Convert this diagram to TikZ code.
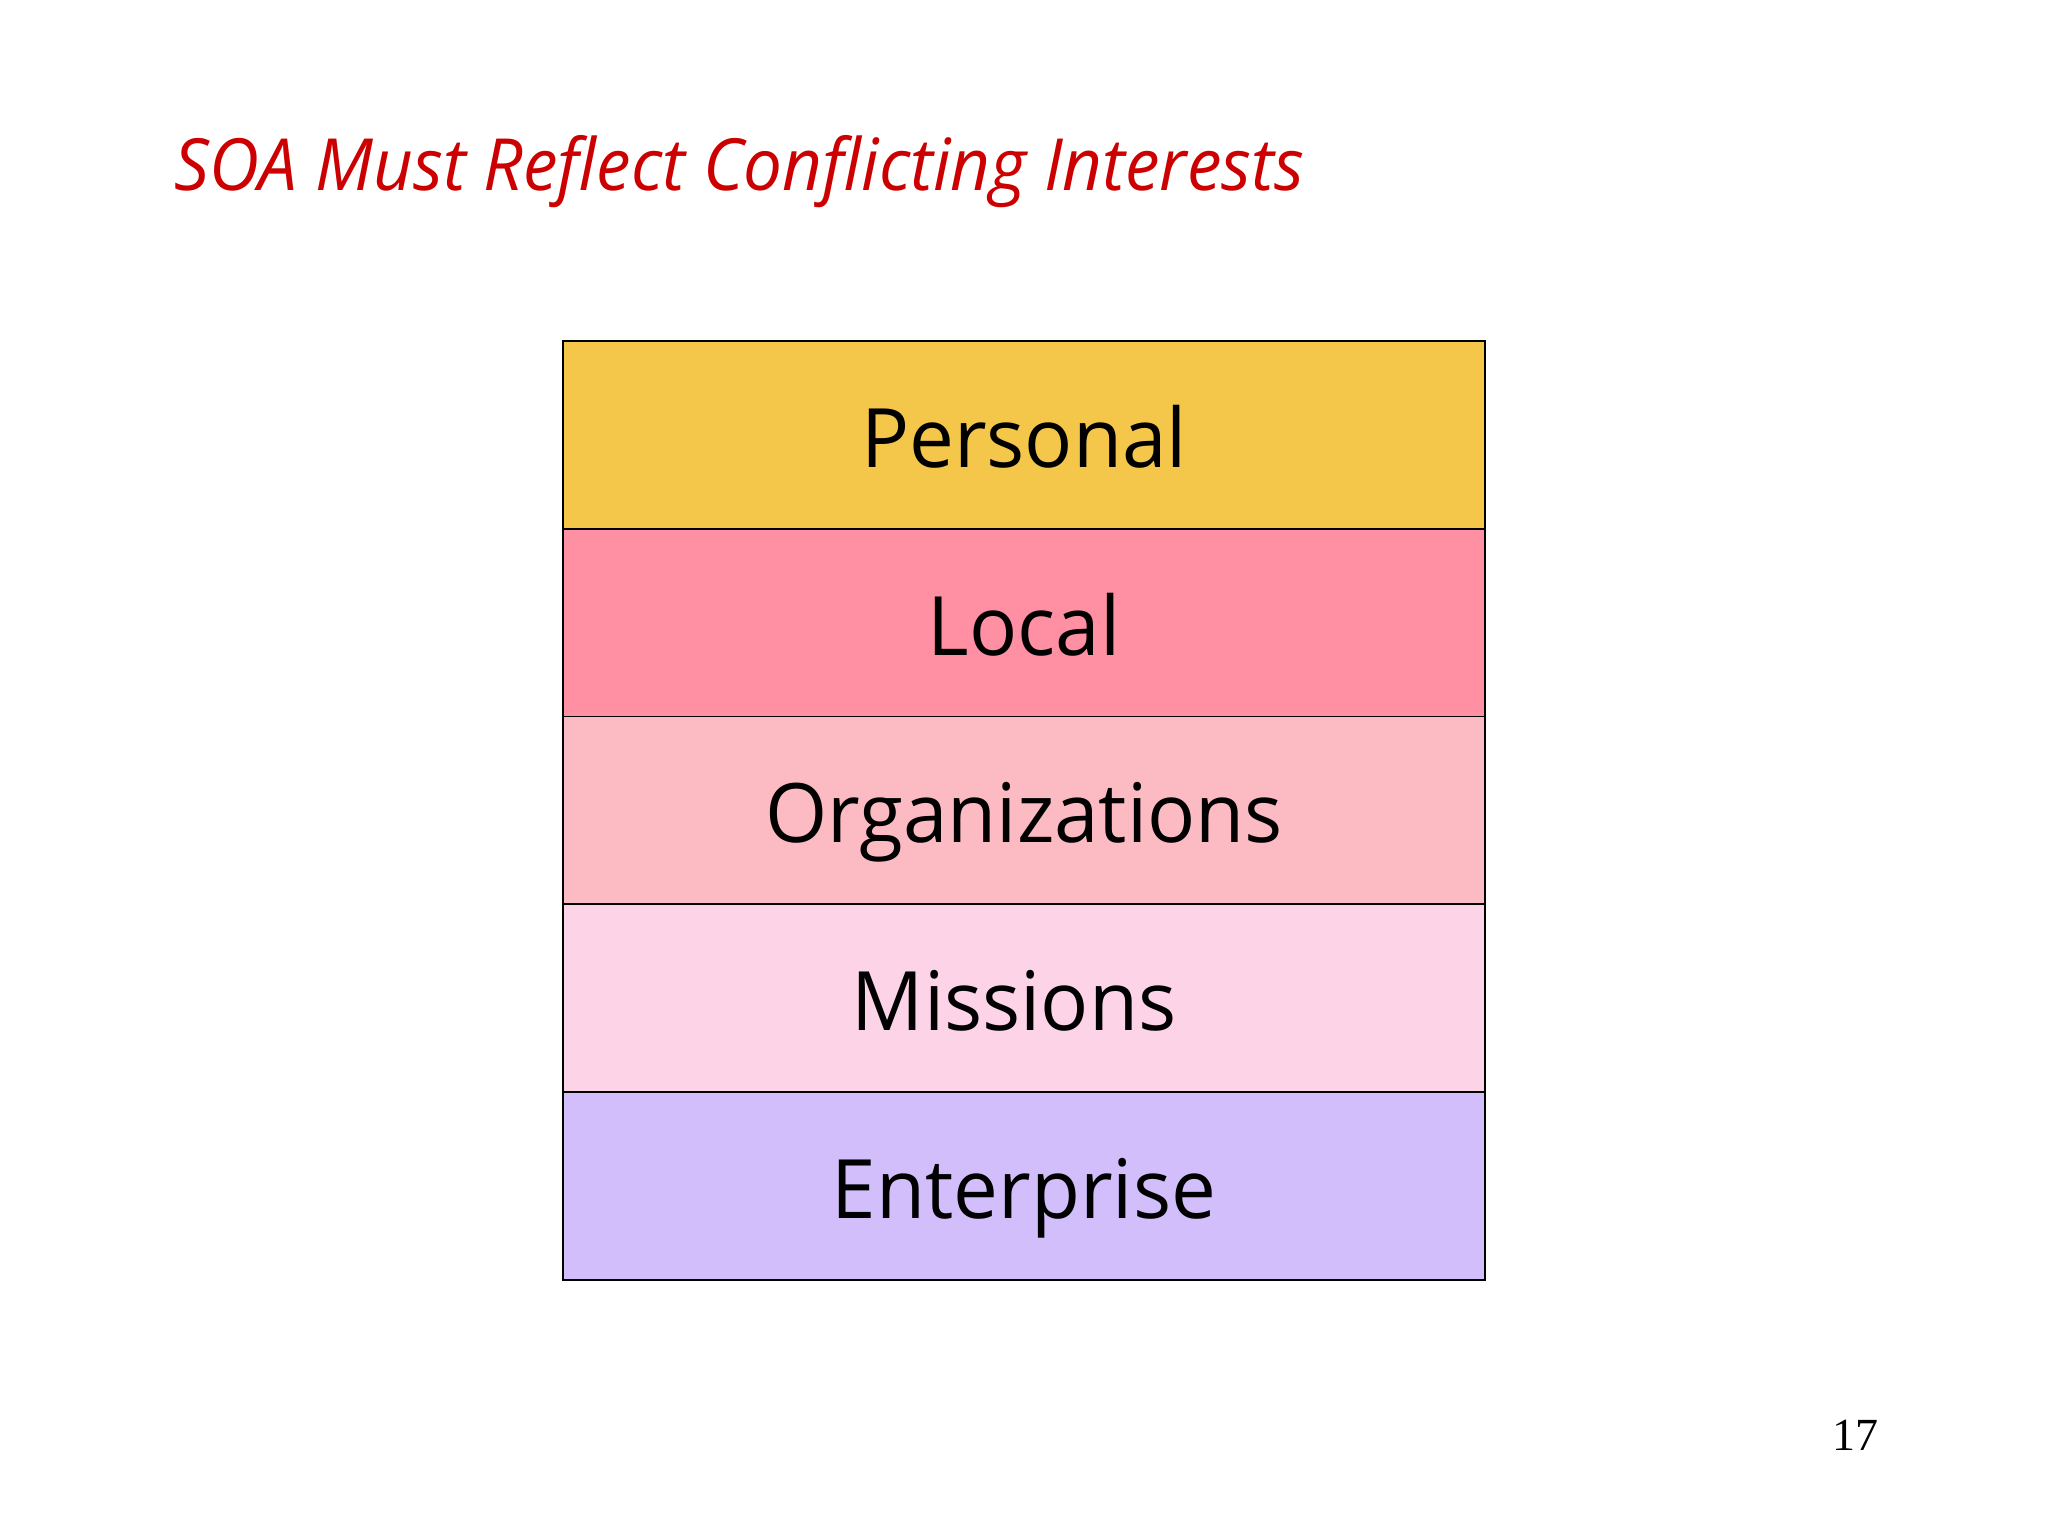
\documentclass[tikz,border=0pt]{standalone}
\usepackage{fontspec}
\setmainfont{Open Sans}
\newfontfamily\titlefont[FakeStretch=0.96]{Open Sans Italic}
\newfontfamily\layerfont[FakeStretch=0.975]{Open Sans}
\newfontfamily\numfont{Liberation Serif}
\definecolor{titlered}{HTML}{CC0000}
\definecolor{cpersonal}{HTML}{F4C74B}
\definecolor{clocal}{HTML}{FF8FA3}
\definecolor{corg}{HTML}{FCBAC3}
\definecolor{cmis}{HTML}{FDD3E7}
\definecolor{cent}{HTML}{D2BEFA}
\tikzset{
  layer/.style={draw=black, line width=1.5pt, minimum width=922pt, minimum height=187.75pt,
    inner sep=0pt, text height=64pt, text depth=0pt,
    font=\layerfont\fontsize{82}{98}\selectfont},
}
\begin{document}
\begin{tikzpicture}[x=1pt,y=-1pt]
\useasboundingbox[fill=white] (0,0) rectangle (2048,1536);
\node[anchor=base west, text=titlered, inner sep=0pt, font=\titlefont\fontsize{72}{86}\selectfont] (title) at (174,190) {SOA Must Reflect Conflicting Interests};
\node[layer, fill=cpersonal] (personal) at (1024,435) {Personal};
\node[layer, fill=clocal] (local) at (1024,623) {Local};
\node[layer, fill=corg] (org) at (1024,810.5) {Organizations};
\node[layer, fill=cmis] (mis) at (1024,998) {Missions\rule{20pt}{0pt}};
\node[layer, fill=cent] (ent) at (1024,1186) {Enterprise};
\node[anchor=base, inner sep=0pt, font=\numfont\fontsize{46}{55}\selectfont] (page) at (1855,1450) {17};
\end{tikzpicture}
\end{document}
